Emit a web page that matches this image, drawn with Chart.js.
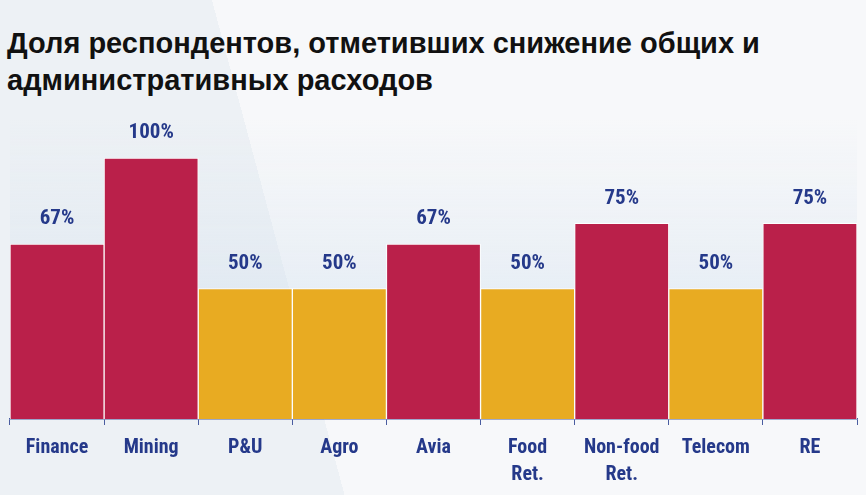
<!DOCTYPE html>
<html>
<head>
<meta charset="utf-8">
<script src="https://cdn.jsdelivr.net/npm/chart.js@4"></script>
<style>
  html, body { margin:0; padding:0; }
  body {
    width:866px; height:495px; overflow:hidden; position:relative;
    background: linear-gradient(75deg, #EDF1F5 34.5%, #F7F8FA 34.5%);
  }
  #title {
    position:absolute; left:7px; top:25px;
    font-family: "Liberation Sans", Arial, sans-serif;
    font-size:29px; font-weight:bold; line-height:37px; color:#111;
    white-space:nowrap;
  }
  #wrap { position:absolute; left:0; top:0; width:866px; height:495px; }
</style>
</head>
<body>
<div id="title">Доля респондентов, отметивших снижение общих и<br>административных расходов</div>
<div id="wrap"><canvas id="chart" width="866" height="495"></canvas></div>
<script>
// categories and values
const categories = ['Finance', 'Mining', 'P&U', 'Agro', 'Avia', ['Food', 'Ret.'], ['Non-food', 'Ret.'], 'Telecom', 'RE'];
const shares = [67, 100, 50, 50, 67, 50, 75, 50, 75];

const CRIMSON = '#BA204A';
const AMBER = '#E8AB22';
const NAVY = '#25398A';
const FONT = '"Roboto Condensed", "Liberation Sans", sans-serif';

// light blue tint behind the bars
const plotTint = {
  id: 'plotTint',
  beforeDatasetsDraw(chart){
    const { ctx, chartArea:a } = chart;
    const g = ctx.createLinearGradient(0, a.top - 40, 0, a.bottom);
    g.addColorStop(0, 'rgba(220,230,240,0)');
    g.addColorStop(1, 'rgba(205,222,238,0.75)');
    ctx.save();
    ctx.fillStyle = g;
    ctx.fillRect(a.left, a.top - 40, a.right - a.left, a.bottom - a.top + 40);
    ctx.restore();
  }
};

// percentage labels above each bar
const valueLabels = {
  id: 'valueLabels',
  afterDatasetsDraw(chart){
    const { ctx } = chart;
    const meta = chart.getDatasetMeta(0);
    ctx.save();
    ctx.font = 'bold 21px ' + FONT;
    ctx.fillStyle = NAVY;
    ctx.textAlign = 'center';
    ctx.textBaseline = 'middle';
    meta.data.forEach((bar, i) => {
      ctx.fillText(shares[i] + '%', bar.x, bar.y - 25);
    });
    ctx.restore();
  }
};

new Chart(document.getElementById('chart'), {
  type: 'bar',
  data: {
    labels: categories,
    datasets: [{
      data: shares,
      backgroundColor: shares.map(v => v === 50 ? AMBER : CRIMSON),
      borderColor: 'rgba(255,255,255,0.9)',
      borderWidth: { left: 1, right: 1, top: 1, bottom: 0 },
      borderSkipped: false,
      barPercentage: 1,
      categoryPercentage: 1
    }]
  },
  options: {
    responsive: false,
    animation: false,
    devicePixelRatio: 1,
    layout: { padding: { top: 158, left: 10, right: 9, bottom: -2 } },
    plugins: { legend: { display: false }, tooltip: { enabled: false } },
    scales: {
      x: {
        grid: { display: true, drawOnChartArea: false, drawTicks: true, tickLength: 6, color: '#4A5DA0', offset: true },
        border: { display: true, color: '#4A5DA0', width: 1.5 },
        ticks: { color: NAVY, padding: 9, maxRotation: 0, autoSkip: false, font: { family: FONT, size: 20, weight: 'bold', lineHeight: 1.35 } }
      },
      y: { display: false, min: 0, max: 100 }
    }
  },
  plugins: [plotTint, valueLabels]
});
</script>
</body>
</html>
